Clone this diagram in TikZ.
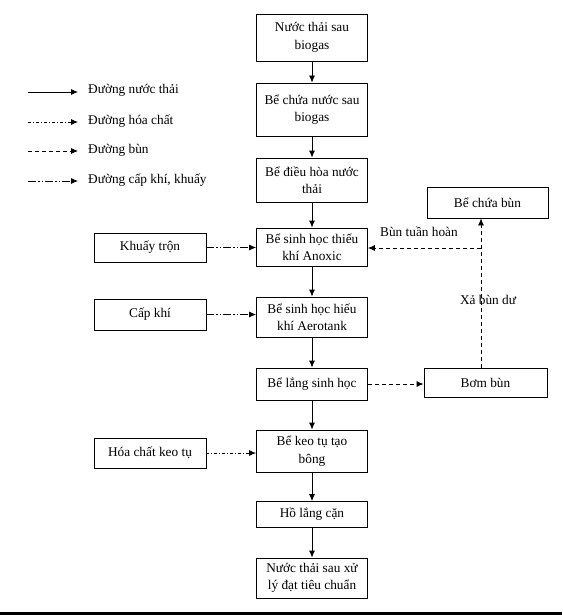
\documentclass[tikz,border=0pt]{standalone}
\usepackage{fontspec}
\setmainfont{Liberation Serif}
\usetikzlibrary{arrows.meta}
\tikzset{
  box/.style={draw,line width=0.8pt,align=center,inner sep=2pt,font=\fontsize{13.3}{17.5}\selectfont},
  water/.style={line width=0.8pt,-{Latex[length=7pt,width=6pt]}},
  chem/.style={water,dash pattern=on 3pt off 2pt on 1pt off 2pt},
  sludge/.style={water,dash pattern=on 4pt off 3pt},
  air/.style={water,dash pattern=on 8pt off 2pt on 1.5pt off 2pt on 1.5pt off 2pt},
  lbl/.style={font=\fontsize{13.3}{17.5}\selectfont,inner sep=1pt}
}
\begin{document}
\begin{tikzpicture}[x=1pt,y=-1pt]
 \useasboundingbox (0,0) rectangle (562,615);
 % main line
 \node[box,minimum width=111pt,minimum height=47pt,name=inflow] at (312,37.5) {Nước thải sau\\biogas};
 \node[box,minimum width=111pt,minimum height=53pt,name=store] at (312,109.5) {Bể chứa nước sau\\biogas};
 \node[box,minimum width=111pt,minimum height=44pt,name=equal] at (312,180) {Bể điều hòa nước\\thải};
 \node[box,minimum width=111pt,minimum height=38pt,name=anoxic] at (312,247) {Bể sinh học thiếu\\khí Anoxic};
 \node[box,minimum width=111pt,minimum height=40pt,name=aero] at (312,317) {Bể sinh học hiếu\\khí Aerotank};
 \node[box,minimum width=111pt,minimum height=32pt,name=settle] at (312,384) {Bể lắng sinh học};
 \node[box,minimum width=111pt,minimum height=42pt,name=coag] at (312,451) {Bể keo tụ tạo\\bông};
 \node[box,minimum width=111pt,minimum height=26pt,name=pond] at (312,514.5) {Hồ lắng cặn};
 \node[box,minimum width=111pt,minimum height=40pt,name=outflow] at (312,578) {Nước thải sau xử\\lý đạt tiêu chuẩn};
 \foreach \a/\b in {inflow/store,store/equal,equal/anoxic,anoxic/aero,aero/settle,settle/coag,coag/pond,pond/outflow} {
    \draw[water] (\a.south) -- (\b.north);
 }
 % inputs
 \node[box,minimum width=112pt,minimum height=29pt,name=mix] at (150,247.5) {Khuấy trộn};
 \node[box,minimum width=112pt,minimum height=31pt,name=aerate] at (150,314.5) {Cấp khí};
 \node[box,minimum width=112pt,minimum height=30pt,name=dose] at (150,453) {Hóa chất keo tụ};
 \draw[air] (mix.east) -- (mix.east -| anoxic.west);
 \draw[air] (aerate.east) -- (aerate.east -| aero.west);
 \draw[chem] (dose.east) -- (dose.east -| coag.west);
 % sludge
 \node[box,minimum width=121pt,minimum height=31pt,name=tank] at (487.5,202.5) {Bể chứa bùn};
 \node[box,minimum width=123pt,minimum height=29pt,name=pump] at (485.5,382.5) {Bơm bùn};
 \coordinate (split) at (481,248);
 \draw[sludge] (settle.east) -- (settle.east -| pump.west);
 \draw[sludge] (pump.north -| split) -- (split |- tank.south);
 \draw[sludge] (split) -- (split -| anoxic.east);
 \node[lbl,name=recyc] at (419,232) {Bùn tuần hoàn};
 \node[lbl,name=waste] at (488,300) {Xả bùn dư};
 % legend
 \node[lbl,anchor=west,name=lg1] at (87,90) {Đường nước thải};
 \node[lbl,anchor=west,name=lg2] at (87,121) {Đường hóa chất};
 \node[lbl,anchor=west,name=lg3] at (87,150) {Đường bùn};
 \node[lbl,anchor=west,name=lg4] at (87,180) {Đường cấp khí, khuấy};
 \draw[water] ([xshift=-59pt]lg1.west |- 0,92) coordinate (l1) -- ([xshift=-9pt]lg1.west |- l1);
 \draw[chem] ([xshift=-59pt]lg2.west |- 0,122) coordinate (l2) -- ([xshift=-9pt]lg2.west |- l2);
 \draw[sludge] ([xshift=-59pt]lg3.west |- 0,151) coordinate (l3) -- ([xshift=-9pt]lg3.west |- l3);
 \draw[air] ([xshift=-59pt]lg4.west |- 0,181) coordinate (l4) -- ([xshift=-9pt]lg4.west |- l4);
 \fill (0,612) rectangle (562,615);
\end{tikzpicture}
\end{document}
